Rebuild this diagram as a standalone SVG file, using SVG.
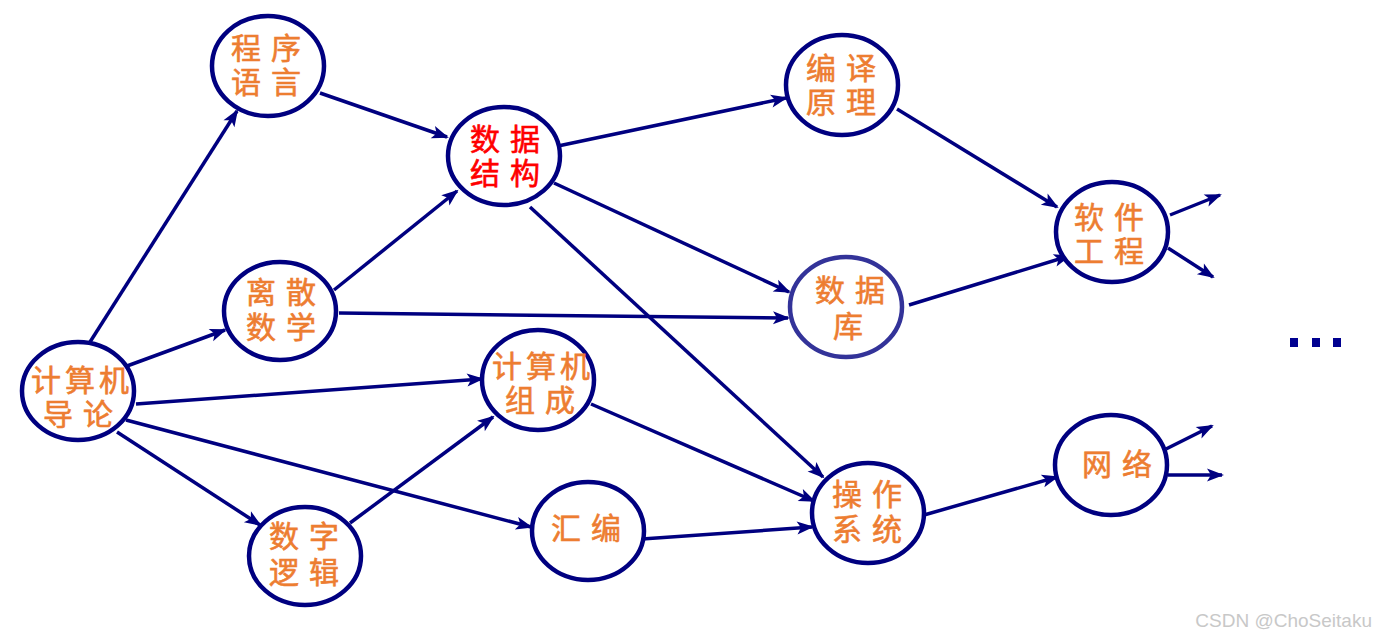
<svg xmlns="http://www.w3.org/2000/svg" width="1376" height="642" viewBox="0 0 1376 642">
<defs>
<marker id="arr" markerUnits="userSpaceOnUse" markerWidth="18" markerHeight="14" refX="15" refY="6.5" orient="auto" overflow="visible">
<path d="M0,0 L17,6.5 L0,13 L4,6.5 Z" fill="#000080"/>
</marker>
<style>
.n{fill:#fff;stroke:#000080;stroke-width:4.5}
.t{font-family:"Liberation Sans","Noto Sans CJK SC","Noto Sans CJK TC",sans-serif;font-size:30px;fill:#ED7D31;stroke:#ED7D31;stroke-width:0.6;text-anchor:middle}
.r{fill:#FF0000;stroke:#FF0000}
.s2{letter-spacing:10px}
.s3{letter-spacing:4px}
.c line{stroke:#000080;stroke-width:3.5;fill:none;marker-end:url(#arr)}
</style>
</defs>
<rect width="1376" height="642" fill="#fff"/>
<g class="c" id="connectors">
<line x1="90" y1="342" x2="237" y2="111"/>
<line x1="320" y1="93" x2="447" y2="137"/>
<line x1="127" y1="366" x2="225" y2="330"/>
<line x1="334" y1="290" x2="457" y2="191"/>
<line x1="339" y1="313" x2="788" y2="318"/>
<line x1="136" y1="404" x2="482" y2="379"/>
<line x1="126" y1="420" x2="531" y2="527"/>
<line x1="117" y1="432" x2="260" y2="525"/>
<line x1="350" y1="523" x2="493" y2="417"/>
<line x1="558" y1="146" x2="786" y2="98"/>
<line x1="554" y1="183" x2="789" y2="292"/>
<line x1="530" y1="207" x2="823" y2="477"/>
<line x1="591" y1="404" x2="814" y2="501"/>
<line x1="642" y1="539" x2="812" y2="527"/>
<line x1="897" y1="109" x2="1057" y2="207"/>
<line x1="909" y1="305" x2="1069" y2="256"/>
<line x1="924" y1="515" x2="1057" y2="477"/>
<line x1="1170" y1="215" x2="1220" y2="195"/>
<line x1="1168" y1="248" x2="1213" y2="277"/>
<line x1="1166" y1="449" x2="1212" y2="426"/>
<line x1="1168" y1="475" x2="1222" y2="475"/>
</g>
<g id="n_chengxu"><ellipse class="n" cx="268" cy="66" rx="56" ry="50"/><text class="t s2"><tspan x="271" y="59">程序</tspan><tspan x="271" y="93">语言</tspan></text></g>
<g id="n_bianyi"><ellipse class="n" cx="842" cy="85" rx="56" ry="50"/><text class="t s2"><tspan x="846" y="78.5">编译</tspan><tspan x="846" y="112.5">原理</tspan></text></g>
<g id="n_shujujiegou"><ellipse class="n" cx="504" cy="156" rx="56" ry="49"/><text class="t s2 r"><tspan x="510" y="149.5">数据</tspan><tspan x="510" y="183.5">结构</tspan></text></g>
<g id="n_lisan"><ellipse class="n" cx="280" cy="311" rx="56" ry="49"/><text class="t s2"><tspan x="286" y="302.5">离散</tspan><tspan x="286" y="337.5">数学</tspan></text></g>
<g id="n_shujuku"><ellipse class="n" cx="846" cy="307" rx="56" ry="50" style="stroke:#333399"/><text class="t s2"><tspan x="855" y="300.5">数据</tspan><tspan x="853" y="336.5">库</tspan></text></g>
<g id="n_daolun"><ellipse class="n" cx="78" cy="391" rx="56" ry="49"/><text class="t"><tspan class="s3" x="82" y="390.5">计算机</tspan><tspan class="s2" x="83" y="424.5">导论</tspan></text></g>
<g id="n_zucheng"><ellipse class="n" cx="538" cy="380" rx="56" ry="50"/><text class="t"><tspan class="s3" x="543" y="377">计算机</tspan><tspan class="s2" x="545" y="411">组成</tspan></text></g>
<g id="n_luoji"><ellipse class="n" cx="305" cy="556" rx="56" ry="49"/><text class="t s2"><tspan x="309" y="546.5">数字</tspan><tspan x="309" y="582.5">逻辑</tspan></text></g>
<g id="n_huibian"><ellipse class="n" cx="588" cy="531" rx="56" ry="49"/><text class="t s2" x="591" y="538.5">汇编</text></g>
<g id="n_caozuo"><ellipse class="n" cx="868" cy="513" rx="56" ry="50"/><text class="t s2"><tspan x="872" y="504.5">操作</tspan><tspan x="872" y="539.5">系统</tspan></text></g>
<g id="n_ruanjian"><ellipse class="n" cx="1112" cy="232" rx="56" ry="50"/><text class="t s2"><tspan x="1114" y="228">软件</tspan><tspan x="1114" y="262">工程</tspan></text></g>
<g id="n_wangluo"><ellipse class="n" cx="1111" cy="465" rx="56" ry="50"/><text class="t s2" x="1122" y="474.5">网络</text></g>
<g id="dots" fill="#000090">
<rect x="1290" y="338" width="8" height="9"/>
<rect x="1312" y="338" width="8" height="9"/>
<rect x="1333" y="338" width="8" height="9"/>
</g>
<text x="1372" y="627" font-family="Liberation Sans, Arial, sans-serif" font-size="19" fill="#C8C8C8" text-anchor="end">CSDN @ChoSeitaku</text>
</svg>
